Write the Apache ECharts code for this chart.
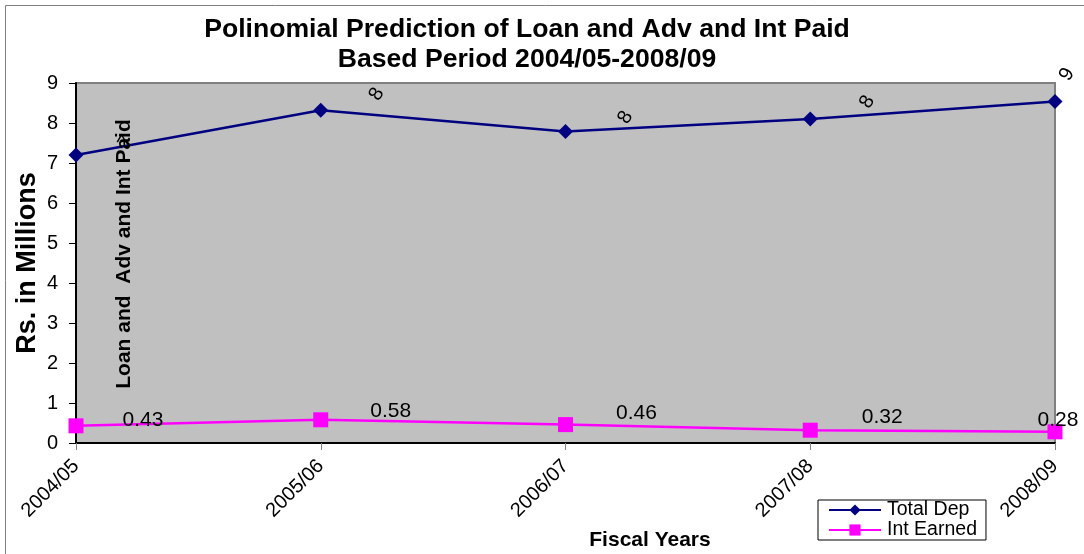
<!DOCTYPE html>
<html><head><meta charset="utf-8">
<script src="https://cdn.jsdelivr.net/npm/echarts@6/dist/echarts.min.js"></script>
<style>html,body{margin:0;padding:0;background:#fff}#c{width:1084px;height:554px}</style>
</head><body><div id="c"></div>
<script>
const categories = ['2004/05','2005/06','2006/07','2007/08','2008/09'];
const totalDep = [7.2, 8.32, 7.79, 8.1, 8.54];
const intEarned = [0.43, 0.58, 0.46, 0.32, 0.28];
const yTicks = [0,1,2,3,4,5,6,7,8,9];

// screen-space label displacements
const depLabelShift = [[50,-13],[56,-16],[60,-14],[57,-17],[12,-27]];
const intLabelShift = [[67,-6],[70,-9],[71,-11],[72,-13],[3,-12]];
const DEP_ROT = 60;

function unrotate(d, deg){
  const t = deg*Math.PI/180, c=Math.cos(t), s=Math.sin(t);
  return [d[0]*c - d[1]*s, d[0]*s + d[1]*c];
}

const F = 'Arial, "Liberation Sans", sans-serif';
const chart = echarts.init(document.getElementById('c'));
chart.setOption({
  animation:false,
  backgroundColor:'#fff',
  title:{
    text:'Polinomial Prediction of Loan and Adv and Int Paid\nBased Period 2004/05-2008/09',
    left:522, top:10, textAlign:'center',
    textStyle:{fontFamily:F,fontSize:26.6,fontWeight:'bold',color:'#000',lineHeight:30}
  },
  grid:{left:76,right:29,top:83,bottom:111,show:true,backgroundColor:'#C0C0C0',borderColor:'#808080',borderWidth:2},
  legend:{
    left:818, top:500, orient:'vertical',
    itemGap:0, itemWidth:52, itemHeight:14, padding:[0,9,0,10],
    borderColor:'#000', borderWidth:1, backgroundColor:'#fff',
    textStyle:{fontFamily:F,fontSize:19.5,color:'#000',lineHeight:20,padding:[0,0,0,1]},
    data:[{name:'Total Dep'},{name:'Int Earned'}]
  },
  xAxis:{
    type:'category', data:categories, boundaryGap:false,
    axisLine:{show:true,lineStyle:{color:'#000',width:2}},
    axisTick:{show:true,inside:false,length:7,lineStyle:{color:'#808080'}},
    axisLabel:{rotate:45,margin:20,fontFamily:F,fontSize:20,color:'#000'},
    splitLine:{show:false}
  },
  yAxis:{
    type:'value', min:0, max:9, interval:1,
    axisLine:{show:true,lineStyle:{color:'#000',width:2}},
    axisTick:{show:true,length:7,lineStyle:{color:'#000'}},
    axisLabel:{margin:18,fontFamily:F,fontSize:20,color:'#000',
      formatter:v=>yTicks.includes(v)?String(v):''},
    splitLine:{show:false}
  },
  series:[
    {name:'Total Dep', type:'line', symbol:'diamond', symbolSize:15,
     itemStyle:{color:'#000080'}, lineStyle:{color:'#000080',width:2.5},
     data: totalDep.map((v,i)=>({value:v,label:{offset:unrotate(depLabelShift[i],DEP_ROT)}})),
     label:{show:true,position:'inside',rotate:DEP_ROT,fontFamily:F,fontSize:20,color:'#000',
       formatter:p=>String(Math.round(p.value))}
    },
    {name:'Int Earned', type:'line', symbol:'rect', symbolSize:15,
     itemStyle:{color:'#FF00FF'}, lineStyle:{color:'#FF00FF',width:2.5},
     data: intEarned.map((v,i)=>({value:v,label:{offset:intLabelShift[i]}})),
     label:{show:true,position:'inside',fontFamily:F,fontSize:21,color:'#000',
       formatter:p=>p.value.toFixed(2)}
    }
  ],
  graphic:[
    {type:'rect',shape:{x:5.5,y:5.5,width:1200,height:700},style:{fill:'none',stroke:'#808080',lineWidth:1},z:-1,silent:true},
    {type:'text',x:28,y:263,rotation:Math.PI/2,style:{text:'Rs. in Millions',font:'bold 27px '+F,fill:'#000',align:'center',verticalAlign:'middle'}},
    {type:'text',x:124,y:254,rotation:Math.PI/2,z:10,style:{text:'Loan and  Adv and Int Paid',font:'bold 21px '+F,fill:'#000',align:'center',verticalAlign:'middle'}},
    {type:'text',x:650,y:540,style:{text:'Fiscal Years',font:'bold 21px '+F,fill:'#000',align:'center',verticalAlign:'middle'}}
  ]
});
</script></body></html>
